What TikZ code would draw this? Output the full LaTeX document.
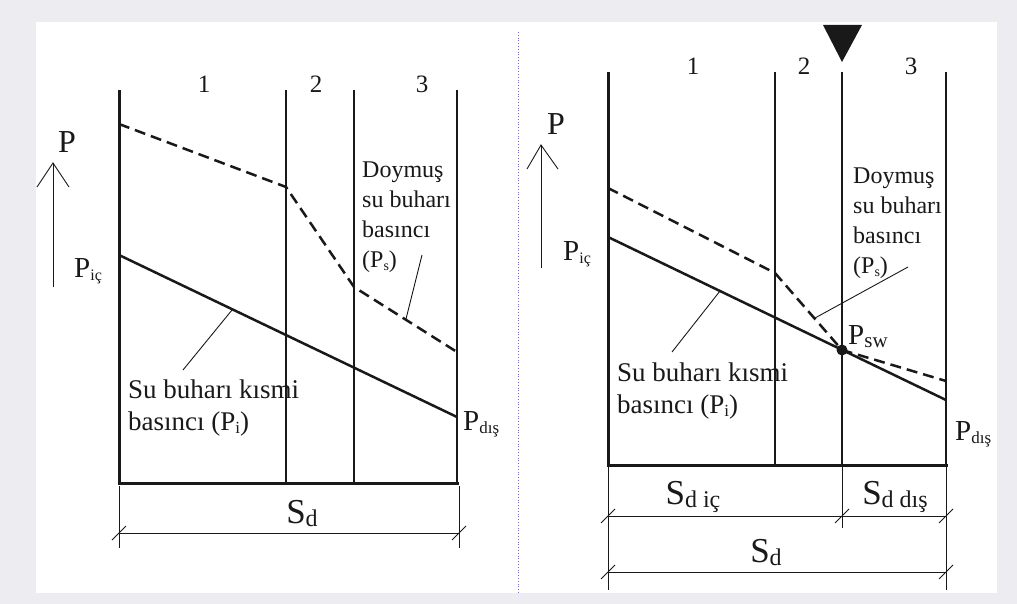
\documentclass[tikz,border=0pt]{standalone}
\usepackage{fontspec}
\setmainfont{Liberation Serif}
\definecolor{pagegray}{RGB}{236,236,241}
\definecolor{sepline}{RGB}{120,110,200}
\definecolor{ink}{RGB}{25,25,25}
\newcommand\subtxt[2]{\raisebox{-3pt}{\fontsize{#1}{#1}\selectfont #2}}
\begin{document}
\begin{tikzpicture}[x=1pt,y=-1pt,
    every node/.style={inner sep=0pt,text=ink},
    axis/.style={ink,line width=3pt},
    wall/.style={ink,line width=1.5pt},
    pline/.style={ink,line width=2.5pt},
    psat/.style={pline,dash pattern=on 11pt off 6pt},
    lead/.style={ink,line width=0.9pt},
    dimln/.style={ink,line width=0.9pt},
    num/.style={font=\fontsize{25}{30}\selectfont,anchor=base},
    txt/.style={font=\fontsize{24}{30}\selectfont,anchor=base west,align=left},
    part/.style={font=\fontsize{27}{32}\selectfont,anchor=base west,align=left},
    pbig/.style={font=\fontsize{32}{36}\selectfont,anchor=base west},
    plbl/.style={font=\fontsize{29}{34}\selectfont,anchor=base west},
    sbig/.style={font=\fontsize{35}{38}\selectfont,anchor=base}]
  \fill[pagegray] (0,0) rectangle (1017,604);
  \useasboundingbox (0,0) rectangle (1017,604);
  \fill[white] (36,22) rectangle (997,593);
  \draw[sepline,line width=0.8pt,dotted] (518,32) -- (518,593);

  % left panel: layers
  \foreach \x/\n in {119/a,286/b,354/c,457/d} {
    \coordinate (lt\n) at (\x,90);
    \coordinate (lb\n) at (\x,483);
  }
  \foreach \n in {b,c,d} \draw[wall] (lt\n) -- (lb\n);
  \draw[axis] (lta) -- (lba) -- ([xshift=2pt]lbd);
  \node[num] (l1) at (204,93) {1};
  \node[num] (l2) at (316,93) {2};
  \node[num] (l3) at (422,93) {3};

  % left panel: pressure lines
  \coordinate (ls0) at (119,124);
  \coordinate (ls1) at (286,187);
  \coordinate (ls2) at (354,287);
  \coordinate (ls3) at (457,352);
  \draw[psat] (ls0) -- (ls1) -- (ls2) -- (ls3);
  \coordinate (li0) at (119,255);
  \coordinate (li1) at (457,417);
  \draw[pline] (li0) -- (li1);

  % left panel: labels
  \node[pbig] (lp) at (58,153) {P};
  \coordinate (lpa) at (53,287);
  \coordinate (lpb) at (53,163);
  \draw[lead] (lpa) -- (lpb);
  \draw[lead] (37,187) -- (lpb) -- (69,187);
  \node[plbl] (lpic) at (74,277) {P\subtxt{16}{iç}};
  \node[plbl] (lpdis) at (463,430) {P\subtxt{17}{dış}};
  \node[txt] (lsat) at (362,267) {Doymuş\\su buharı\\basıncı\\(P\subtxt{14}{s})};
  \coordinate (lsa) at (422,255);
  \coordinate (lsb) at (406,319);
  \draw[lead] (lsa) -- (lsb);
  \node[part] (lpar) at (128,430) {Su buharı kısmi\\basıncı (P\subtxt{17}{i})};
  \coordinate (lia) at (232,310);
  \coordinate (lib) at (183,370);
  \draw[lead] (lia) -- (lib);

  % left panel: dimension
  \coordinate (ld0) at (119,533);
  \coordinate (ld1) at (459,533);
  \draw[dimln] (119,486) -- (119,548);
  \draw[dimln] (459,486) -- (459,548);
  \draw[dimln] (ld0) -- (ld1);
  \foreach \c in {ld0,ld1}
    \draw[dimln] ([shift={(-7,7)}]\c) -- ([shift={(7,-7)}]\c);
  \node[sbig] (lsd) at (302,523) {S\subtxt{24}{d}};

  % right panel: layers
  \foreach \x/\n in {608/a,775/b,842/c,946/d} {
    \coordinate (rt\n) at (\x,72);
    \coordinate (rb\n) at (\x,465);
  }
  \foreach \n in {b,c,d} \draw[wall] (rt\n) -- (rb\n);
  \draw[axis] (rta) -- (rba) -- ([xshift=2pt]rbd);
  \node[num] (r1) at (693,75) {1};
  \node[num] (r2) at (804,75) {2};
  \node[num] (r3) at (911,75) {3};
  \fill[ink] (823,25) -- (862,25) -- (842,62) -- cycle;

  % right panel: pressure lines
  \coordinate (rs0) at (608,188);
  \coordinate (rs1) at (775,273);
  \coordinate (rsw) at (842,350);
  \coordinate (rs3) at (946,381);
  \draw[psat] (rs0) -- (rs1) -- (rsw) -- (rs3);
  \coordinate (ri0) at (608,237);
  \coordinate (ri1) at (946,400);
  \draw[pline] (ri0) -- (ri1);
  \fill[ink] (rsw) circle (5.5);

  % right panel: labels
  \node[pbig] (rp) at (547,135) {P};
  \coordinate (rpa) at (541,268);
  \coordinate (rpb) at (541,145);
  \draw[lead] (rpa) -- (rpb);
  \draw[lead] (527,169) -- (rpb) -- (558,169);
  \node[plbl] (rpic) at (563,260) {P\subtxt{16}{iç}};
  \node[plbl] (rpdis) at (955,440) {P\subtxt{17}{dış}};
  \node[plbl] (rpsw) at (848,344) {P\subtxt{21}{sw}};
  \node[txt] (rsat) at (853,273) {Doymuş\\su buharı\\basıncı\\(P\subtxt{14}{s})};
  \coordinate (rsa) at (908,267);
  \coordinate (rsb) at (815,318);
  \draw[lead] (rsa) -- (rsb);
  \node[part] (rpar) at (617,413) {Su buharı kısmi\\basıncı (P\subtxt{17}{i})};
  \coordinate (ria) at (720,291);
  \coordinate (rib) at (672,352);
  \draw[lead] (ria) -- (rib);

  % right panel: dimensions
  \coordinate (rd0) at (608,516);
  \coordinate (rd1) at (842,516);
  \coordinate (rd2) at (946,516);
  \coordinate (re0) at (608,572);
  \coordinate (re1) at (946,572);
  \draw[dimln] (608,467) -- (608,590);
  \draw[dimln] (842,467) -- (842,528);
  \draw[dimln] (946,467) -- (946,590);
  \draw[dimln] (rd0) -- (rd2);
  \draw[dimln] (re0) -- (re1);
  \foreach \c in {rd0,rd1,rd2,re0,re1}
    \draw[dimln] ([shift={(-7,7)}]\c) -- ([shift={(7,-7)}]\c);
  \node[sbig] (rsdi) at (693,504) {S\subtxt{24}{d iç}};
  \node[sbig] (rsdd) at (895,504) {S\subtxt{24}{d dış}};
  \node[sbig] (rsd) at (766,562) {S\subtxt{24}{d}};
\end{tikzpicture}
\end{document}
